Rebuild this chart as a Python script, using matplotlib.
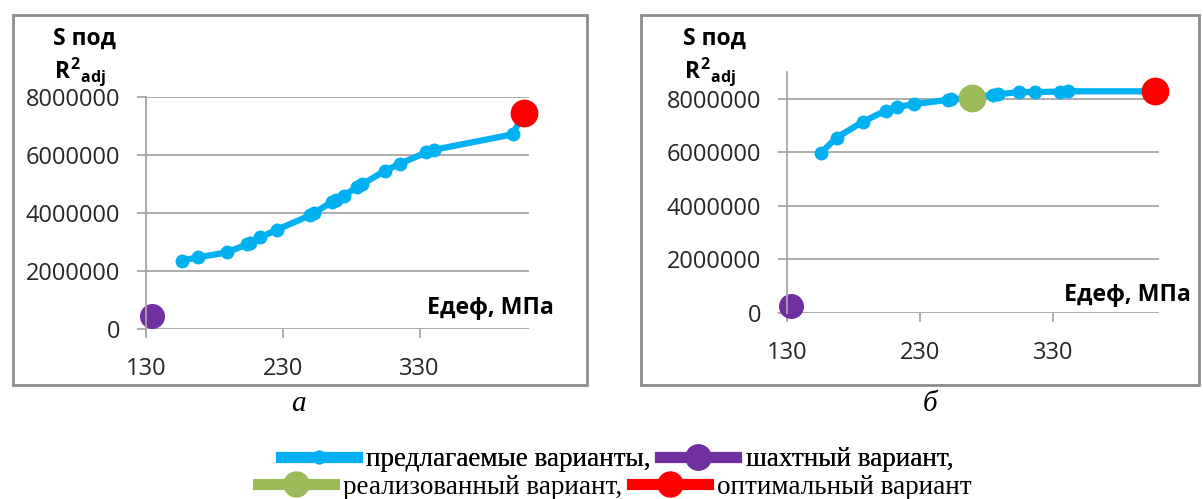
import matplotlib.pyplot as plt
from matplotlib.lines import Line2D
from matplotlib.patches import Rectangle

# данные
# а
x_a = [156, 168, 189, 204, 206, 213.5, 226, 250, 252.6, 266, 269, 274.5, 284.4,
       288, 304.4, 315.6, 335, 340.5, 398, 406.4]
y_a = [2.36e6, 2.47e6, 2.64e6, 2.92e6, 2.98e6, 3.16e6, 3.43e6, 3.92e6, 4.0e6,
       4.38e6, 4.46e6, 4.6e6, 4.9e6, 4.99e6, 5.45e6, 5.7e6, 6.09e6, 6.18e6,
       6.71e6, 7.46e6]
mine_a = (134.4, 0.45e6)
opt_a = (406.4, 7.46e6)

# б
x_b = [155.3, 167.4, 187.4, 204.4, 212.5, 225.7, 251.3, 253.8, 269.6, 285.1,
       288.9, 304.7, 316.5, 335.3, 341.5, 406.7]
y_b = [5.97e6, 6.55e6, 7.15e6, 7.56e6, 7.69e6, 7.8e6, 7.96e6, 7.98e6, 8.03e6,
       8.15e6, 8.17e6, 8.25e6, 8.25e6, 8.27e6, 8.28e6, 8.28e6]
mine_b = (133, 0.27e6)
real_b = (269.6, 8.03e6)
opt_b = (406.7, 8.28e6)

x_ticks = [130, 230, 330]
y_ticks = [0, 2000000, 4000000, 6000000, 8000000]

BLUE = '#00b0f0'
PURPLE = '#7030a0'
GREEN = '#9bbb59'
RED = '#ff0000'
GRID = '#a6a6a6'

plt.rcParams['mathtext.fontset'] = 'custom'
plt.rcParams['mathtext.rm'] = 'Open Sans:bold'
plt.rcParams['mathtext.it'] = 'Open Sans:bold'
plt.rcParams['mathtext.bf'] = 'Open Sans:bold'

W, H = 1203, 499


def fx(px):
    return px / W


def fy(py):
    return 1 - py / H


def setup(ax, ymax):
    ax.set_xlim(130, 410)
    ax.set_ylim(0, ymax)
    ax.set_xticks(x_ticks)
    ax.set_yticks(y_ticks)
    ax.set_yticklabels([str(v) for v in y_ticks])
    ax.grid(axis='y', color=GRID, lw=1.3)
    ax.set_axisbelow(True)
    for s in ['top', 'right', 'bottom']:
        ax.spines[s].set_visible(False)
    ax.spines['left'].set_color(GRID)
    ax.spines['left'].set_linewidth(1.3)
    ax.tick_params(axis='both', direction='out', length=6.5, width=1.3, color=GRID,
                   labelsize=17, labelcolor='#262626')
    ax.tick_params(axis='x', pad=13.5)
    ax.tick_params(axis='y', pad=12)
    for lab in ax.get_xticklabels() + ax.get_yticklabels():
        lab.set_family('Open Sans')
    ax.patch.set_alpha(0)


def main() -> None:
    fig = plt.figure(figsize=(W / 100, H / 100), dpi=100)

    # рамки
    for x0, x1 in [(13, 587), (641, 1199)]:
        fig.patches.append(Rectangle((fx(x0), fy(385)), fx(x1 - x0), (385 - 15) / H,
                                     transform=fig.transFigure, fill=False,
                                     edgecolor='#8c8c8c', lw=2))

    # а
    ax1 = fig.add_axes([fx(146), fy(329), fx(529 - 146), (329 - 97) / H])
    setup(ax1, 8e6)
    ax1.plot(x_a, y_a, color=BLUE, lw=4.5, marker='o', ms=9, solid_capstyle='round')
    ax1.plot(*mine_a, 'o', color=PURPLE, ms=17, clip_on=False)
    ax1.plot(*opt_a, 'o', color=RED, ms=19, clip_on=False)

    # б
    ax2 = fig.add_axes([fx(787), fy(313), fx(1159 - 787), (313 - 72) / H])
    setup(ax2, 9e6)
    ax2.plot(x_b, y_b, color=BLUE, lw=4.5, marker='o', ms=9, solid_capstyle='round')
    ax2.plot(*mine_b, 'o', color=PURPLE, ms=17, clip_on=False)
    ax2.plot(*real_b, 'o', color=GREEN, ms=19, clip_on=False)
    ax2.plot(*opt_b, 'o', color=RED, ms=19, clip_on=False)

    # подписи осей
    for cx, xl in [(84, (490, 308)), (714, (1127, 295))]:
        fig.text(fx(cx), fy(39), 'S под', family='Open Sans', weight='bold',
                 fontsize=16.5, ha='center', va='center')
        fig.text(fx(cx - 4), fy(72), r'${R^2}_{adj}$', fontsize=16.5,
                 ha='center', va='center')
        fig.text(fx(xl[0]), fy(xl[1]), 'Едеф, МПа', family='Open Sans',
                 weight='bold', fontsize=16.7, ha='center', va='center')

    fig.text(fx(298), fy(404), 'а', family='Liberation Serif', style='italic',
             fontsize=21, ha='center', va='center')
    fig.text(fx(930), fy(404), 'б', family='Liberation Serif', style='italic',
             fontsize=21, ha='center', va='center')

    # легенда
    def h(c, ms):
        return Line2D([], [], color=c, lw=8, marker='o', ms=ms)

    leg_kw = dict(frameon=False, ncol=2, loc='center', handlelength=2.8,
                  handletextpad=0.35, columnspacing=0.35, borderpad=0,
                  prop={'family': 'Liberation Serif', 'size': 19.5})
    leg1 = fig.legend([h(BLUE, 9), h(PURPLE, 18)],
                      ['предлагаемые варианты,', 'шахтный вариант,'],
                      bbox_to_anchor=(fx(617), fy(460)), **leg_kw)
    fig.add_artist(leg1)
    fig.legend([h(GREEN, 18), h(RED, 18)],
               ['реализованный вариант,', 'оптимальный вариант'],
               bbox_to_anchor=(fx(615), fy(487)), **leg_kw)

    fig.savefig('out.png', dpi=100)


if __name__ == "__main__":
    main()
